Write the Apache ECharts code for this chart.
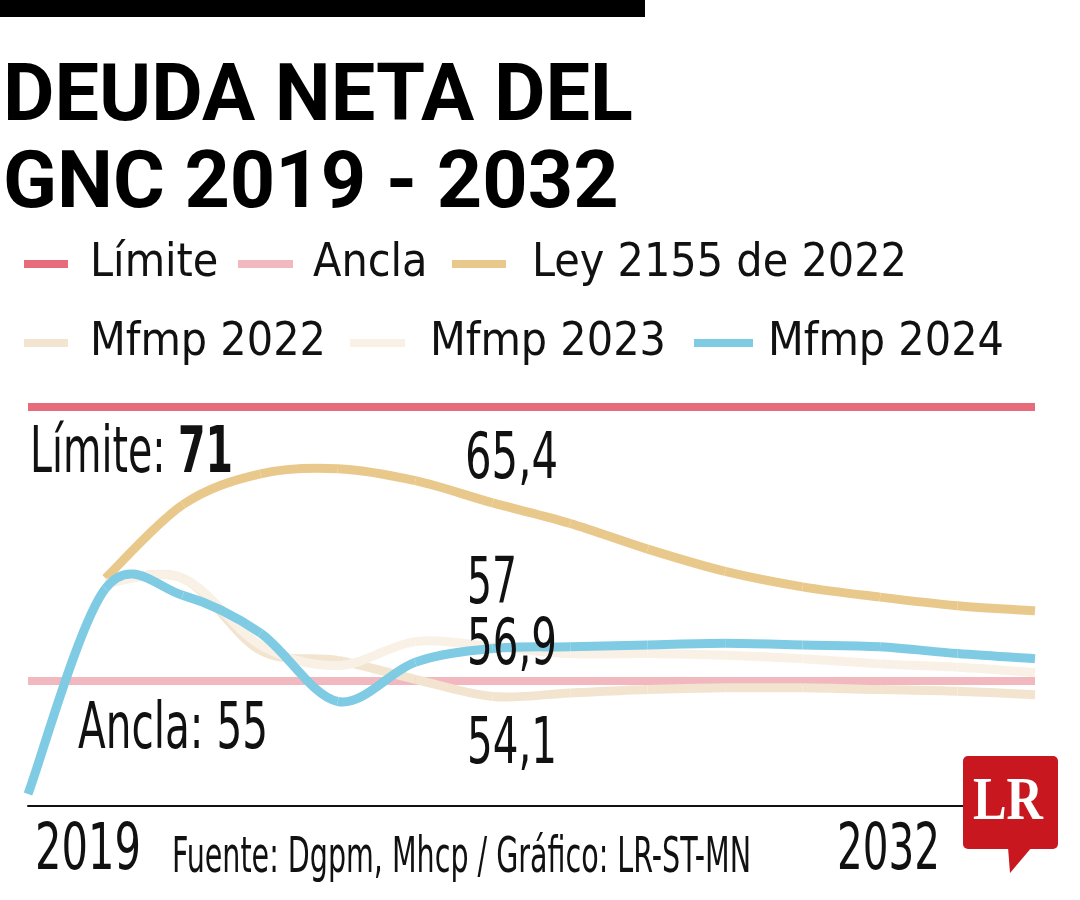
<!DOCTYPE html>
<html>
<head>
<meta charset="utf-8">
<style>html,body{margin:0;padding:0;background:#fff}#c{width:1080px;height:900px}</style>
<script src="https://cdn.jsdelivr.net/npm/echarts@6/dist/echarts.min.js"></script>
</head>
<body>
<div id="c"></div>
<script>
// ---------------- DATA ----------------
const years = ['2019','2020','2021','2022','2023','2024','2025','2026','2027','2028','2029','2030','2031','2032'];
const limite   = [71,71,71,71,71,71,71,71,71,71,71,71,71,71];
const ancla    = [55,55,55,55,55,55,55,55,55,55,55,55,55,55];
const ley2155  = [null,61.0,65.3,67.1,67.4,66.7,65.4,64.2,62.7,61.4,60.5,59.9,59.4,59.1];
const mfmp2022 = [null,60.7,61.0,56.8,56.2,55.1,54.1,54.3,54.5,54.6,54.6,54.5,54.4,54.2];
const mfmp2023 = [null,60.7,61.0,57.1,55.9,57.3,57.0,56.6,56.6,56.5,56.3,56.0,55.8,55.5];
const mfmp2024 = [48.4,60.4,60.0,57.8,53.8,56.1,56.9,57.0,57.1,57.2,57.1,57.0,56.6,56.3];
const seriesNames = ['Límite','Ancla','Ley 2155 de 2022','Mfmp 2022','Mfmp 2023','Mfmp 2024'];
const tickLabels = ['2019','2032'];
const valueLabels = ['65,4','57','56,9','54,1'];
const limiteLabel = ['Límite: ','71'];
const anclaLabel = 'Ancla: 55';
const titleText = 'DEUDA NETA DEL\nGNC 2019 - 2032';
const sourceText = 'Fuente: Dgpm, Mhcp / Gráfico: LR-ST-MN';

// ---------------- STYLE ----------------
const colors = ['#e66c7c','#f2b8c0','#e9c98b','#f3e4d0','#f9f1e6','#7ecbe3'];
const ctx = document.createElement('canvas').getContext('2d');
function fontAvailable(name){
  const s = 'Mfmp 2022 Límite abcdefghijklmnop 0123456789';
  for (const base of ['monospace','serif']) {
    ctx.font = '100px ' + base; const a = ctx.measureText(s).width;
    ctx.font = '100px "' + name + '", ' + base; const b = ctx.measureText(s).width;
    if (Math.abs(a - b) > 0.5) return true;
  }
  return false;
}
const NARROW = ['Liberation Sans Narrow','DejaVu Sans Condensed','Liberation Sans'].find(fontAvailable) || 'sans-serif';
function measure(text, weight, size, family){
  ctx.font = weight + ' ' + size + 'px "' + family + '"';
  return ctx.measureText(text).width;
}

// legend: one component per item, placed like the reference
const LS = 236 / measure('Mfmp 2022','normal',100,NARROW) * 100;
const legendLayout = [
  {left:24,  row:0, w:44, gap:22},
  {left:238, row:0, w:55, gap:20},
  {left:452, row:0, w:54, gap:26},
  {left:24,  row:1, w:44, gap:22},
  {left:350, row:1, w:55, gap:25},
  {left:694, row:1, w:59, gap:15}
];
const rowCenter = [264, 343];
const legends = legendLayout.map((l, i) => ({
  data: [{name: seriesNames[i], icon: 'rect'}],
  left: l.left,
  top: rowCenter[l.row] - LS/2,
  padding: 0,
  itemWidth: l.w,
  itemHeight: 8,
  selectedMode: false,
  textStyle: {fontFamily: NARROW, fontSize: LS, lineHeight: LS, color: '#111', padding: [0,0,0,l.gap-5]}
}));

const TS = 630 / measure('DEUDA NETA DEL','bold',100,'Roboto') * 100;

function fitText(text, left, cy, width, size, weight, family, fill, rich, richWidth){
  const w = richWidth || measure(text, weight, size, family);
  const el = {
    type: 'text', x: left, y: cy + 0.02*size, scaleX: width / w, z: 100,
    style: {text: text, fontFamily: family, fontSize: size, fontWeight: weight, fill: fill || '#111',
            align: 'left', verticalAlign: 'middle'}
  };
  if (rich) el.style.rich = rich;
  return el;
}
const AS = 64;
const limW = measure(limiteLabel[0],'normal',AS,NARROW) + measure(limiteLabel[1],'bold',AS,NARROW);
const graphics = [
  {type:'rect', shape:{x:0,y:0,width:645,height:17}, style:{fill:'#000'}, z:100},
  fitText(limiteLabel[0] + '{b|' + limiteLabel[1] + '}', 30, 454, 203, AS, 'normal', NARROW, '#111',
          {b:{fontWeight:'bold', fontSize:AS, fontFamily:NARROW, fill:'#111'}}, limW),
  fitText(anclaLabel, 78, 730, 190, AS, 'normal', NARROW),
  fitText(valueLabels[0], 465, 460, 93, AS, 'normal', NARROW),
  fitText(valueLabels[1], 467, 585, 50, AS, 'normal', NARROW),
  fitText(valueLabels[2], 467, 646, 90, AS, 'normal', NARROW),
  fitText(valueLabels[3], 467, 745, 90, AS, 'normal', NARROW),
  fitText(tickLabels[0], 35, 851, 106, AS, 'normal', NARROW),
  fitText(tickLabels[1], 837, 851, 103, AS, 'normal', NARROW),
  fitText(sourceText, 172, 858, 579, 50, 'normal', NARROW),
  {type:'group', z:200, children:[
    {type:'rect', z:200, shape:{x:963,y:756,width:95,height:93,r:5}, style:{fill:'#c8171e'}},
    {type:'polygon', z:200, shape:{points:[[1008,847],[1032,847],[1010,873]]}, style:{fill:'#c8171e'}},
    Object.assign(fitText('LR', 973, 802, 70, 62, 'bold', 'Liberation Serif', '#fff'), {z:201})
  ]}
];

// straight reference lines
function refLine(i, data){
  return {
    name: seriesNames[i], type: 'line', data: data, smooth: false,
    showSymbol: false, symbol: 'none', silent: true, color: colors[i],
    lineStyle: {color: colors[i], width: 8, cap: 'butt'}, itemStyle: {color: colors[i]}, z: 2 + i
  };
}
// smooth curve (Catmull-Rom) drawn through the axes' own coordinates
function curve(i, data){
  const pts = [];
  data.forEach((v, k) => { if (v != null) pts.push([k, v]); });
  const color = colors[i];
  return {
    name: seriesNames[i], type: 'custom', coordinateSystem: 'cartesian2d',
    data: pts, encode: {x: 0, y: 1}, silent: true, z: 2 + i,
    itemStyle: {color: color},
    renderItem: function(params, api){
      const k = params.dataIndex;
      if (k >= pts.length - 1) return null;
      const P = j => api.coord(pts[Math.max(0, Math.min(pts.length - 1, j))]);
      const p0 = P(k - 1), p1 = P(k), p2 = P(k + 1), p3 = P(k + 2);
      return {
        type: 'bezierCurve',
        shape: {
          x1: p1[0], y1: p1[1], x2: p2[0], y2: p2[1],
          cpx1: p1[0] + (p2[0] - p0[0]) / 6, cpy1: p1[1] + (p2[1] - p0[1]) / 6,
          cpx2: p2[0] - (p3[0] - p1[0]) / 6, cpy2: p2[1] - (p3[1] - p1[1]) / 6
        },
        style: {fill: null, stroke: color, lineWidth: 9, lineCap: 'butt'}
      };
    }
  };
}
const series = [
  refLine(0, limite), refLine(1, ancla),
  curve(2, ley2155), curve(3, mfmp2022), curve(4, mfmp2023), curve(5, mfmp2024)
];

const chart = echarts.init(document.getElementById('c'), null, {renderer: 'canvas'});
chart.setOption({
  animation: false,
  backgroundColor: '#fff',
  title: {
    text: titleText, left: 3, top: 56.5, padding: 0,
    textStyle: {fontFamily: 'Roboto', fontWeight: 'bold', fontSize: TS, lineHeight: 87, color: '#000'}
  },
  legend: legends,
  grid: {left: 28, right: 45, top: 389.9, bottom: 94, containLabel: false},
  xAxis: {
    type: 'category', data: years, boundaryGap: false,
    axisLine: {show: true, lineStyle: {color: '#111', width: 2}},
    axisTick: {show: false}, axisLabel: {show: false}, splitLine: {show: false}
  },
  yAxis: {type: 'value', min: 47.7, max: 72, show: false, splitLine: {show: false}},
  series: series,
  graphic: graphics
});
</script>
</body>
</html>
